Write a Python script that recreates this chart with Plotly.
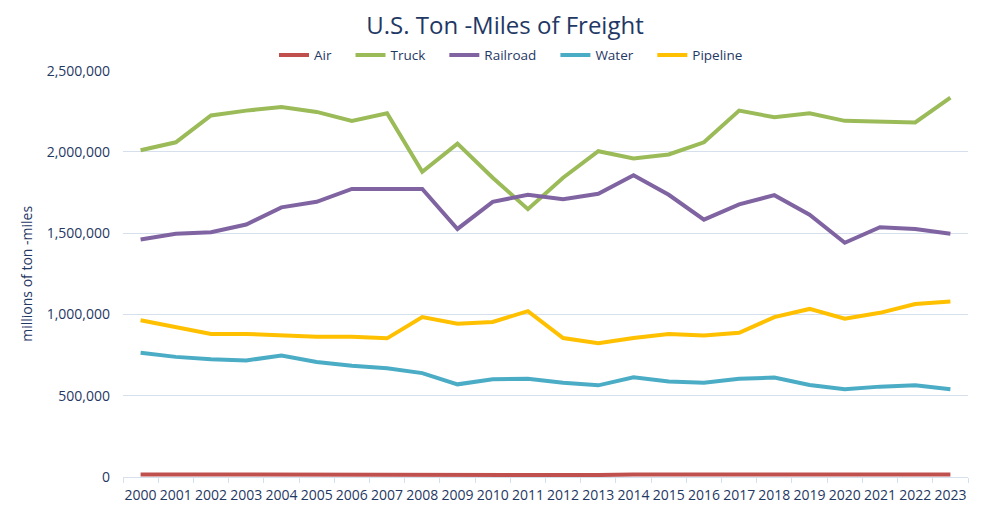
"""U.S. Ton-Miles of Freight"""
import plotly.graph_objects as go

years = [str(y) for y in range(2000, 2024)]

air = [15800, 15100, 15600, 15800, 16400, 15700, 15800, 15200, 14900,
       11800, 12200, 12100, 12000, 12100, 15800, 15900, 15700, 15800,
       15900, 15700, 15600, 15800, 15700, 15600]
truck = [2010000, 2059000, 2224000, 2254000, 2276000, 2246000, 2191000,
         2238000, 1878000, 2051000, 1841000, 1648000, 1841000, 2004000,
         1959000, 1984000, 2059000, 2254000, 2213000, 2238000, 2191000,
         2183000, 2181000, 2334000]
railroad = [1461000, 1496000, 1506000, 1553000, 1659000, 1693000, 1772000,
            1772000, 1772000, 1526000, 1693000, 1736000, 1709000, 1742000,
            1856000, 1736000, 1583000, 1677000, 1734000, 1614000, 1441000,
            1537000, 1526000, 1496000]
water = [765000, 739000, 725000, 717000, 747000, 708000, 684000, 669000,
         639000, 570000, 602000, 604000, 580000, 564000, 614000, 588000,
         580000, 604000, 612000, 566000, 540000, 556000, 564000, 540000]
pipeline = [964000, 923000, 880000, 880000, 869000, 863000, 863000, 853000,
            984000, 943000, 954000, 1020000, 855000, 823000, 855000, 880000,
            871000, 887000, 984000, 1034000, 974000, 1010000, 1064000, 1080000]

series = [
    ("Air", air, "#c0504d"),
    ("Truck", truck, "#9bbb59"),
    ("Railroad", railroad, "#8064a2"),
    ("Water", water, "#4bacc6"),
    ("Pipeline", pipeline, "#ffc000"),
]

navy = "#1f3864"
grid = "#d6dfec"
pad = "\u00a0" * 4  # a bit more room between legend entries

fig = go.Figure()
for name, vals, color in series:
    fig.add_trace(go.Scatter(x=years, y=vals, mode="lines", name=name + pad,
                             line=dict(color=color, width=4)))

# page body adds 8px offset, so margins are pulled in by 8
fig.update_layout(
    width=1000,
    height=518,
    paper_bgcolor="white",
    plot_bgcolor="white",
    font=dict(family="Open Sans, sans-serif", color=navy, size=14),
    title=dict(text="U.S. Ton -Miles of Freight", x=0.497, xanchor="center",
               y=0.967, yanchor="middle", font=dict(size=24, color=navy)),
    legend=dict(orientation="h", xref="container", x=0.51, xanchor="center",
                yref="container", y=0.909, yanchor="middle",
                font=dict(size=13.5, color=navy),
                itemwidth=30, tracegroupgap=0),
    margin=dict(l=115, r=40, t=59, b=49),
    xaxis=dict(
        type="category",
        automargin=False,
        range=[-0.5, 23.5],
        tickson="boundaries",
        ticks="outside",
        ticklen=5,
        tickcolor=grid,
        tickangle=0,
        ticklabelstandoff=5,
        showline=True,
        linecolor=grid,
        showgrid=False,
        tickfont=dict(size=14, color=navy),
    ),
    yaxis=dict(
        automargin=False,
        range=[0, 2500000],
        dtick=500000,
        tickformat=",d",
        showgrid=True,
        gridcolor=grid,
        zeroline=False,
        ticks="",
        ticklabelstandoff=12,
        tickfont=dict(size=14, color=navy),
        title=dict(text="millions of ton -miles", font=dict(size=14, color=navy),
                   standoff=10),
    ),
)

fig.write_html("out.html")
